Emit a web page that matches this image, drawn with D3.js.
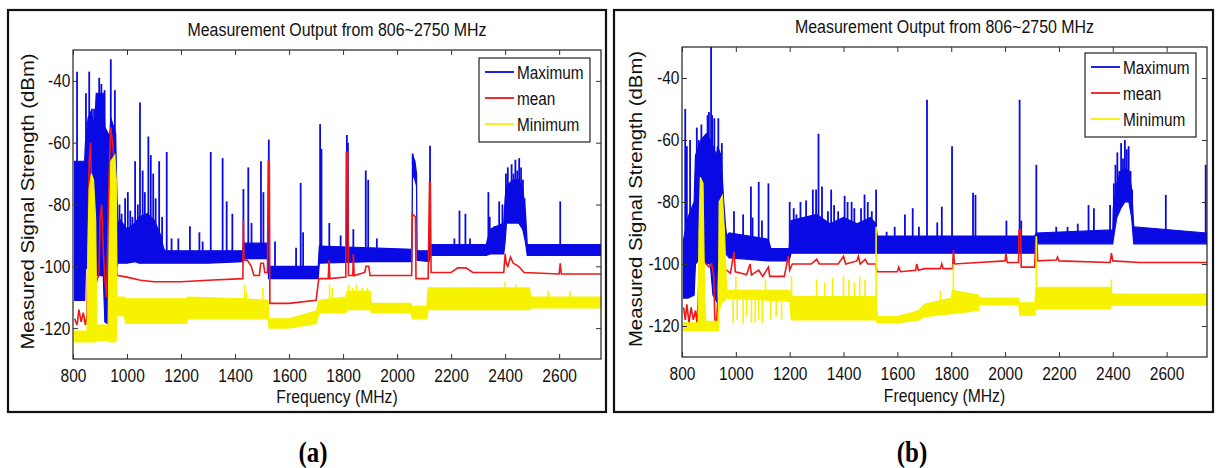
<!DOCTYPE html>
<html><head><meta charset="utf-8">
<script src="https://cdn.jsdelivr.net/npm/d3@7/dist/d3.min.js"></script>
<style>body{margin:0;background:#fff}svg{display:block}</style>
</head><body>
<svg id="chart" width="1218" height="468"></svg>
<script>
// ---------- shared labels ----------
const titleText = "Measurement Output from 806~2750 MHz";
const xLabel = "Frequency (MHz)";
const yLabel = "Measured Signal Strength (dBm)";
const xTicks = [800,1000,1200,1400,1600,1800,2000,2200,2400,2600];
const yTicks = [-40,-60,-80,-100,-120];
const seriesNames = ["Maximum","mean","Minimum"];
const captions = ["(a)","(b)"];

// ---------- panel (a) data : [MHz, dBm low, dBm high] bands, [MHz, dBm] spikes / line ----------
const aMaxBand = [
[806,-111,-66],[843,-111,-66],[846,-101,-60],[856,-100,-52],[866,-98,-50],[880,-98,-55],[886,-103,-44],[912,-103,-44],[918,-118,-55],[936,-119,-58],[940,-108,-52],[958,-104,-57],[962,-100,-75],[966,-99,-86],
[975,-99,-85],[1000,-99,-88],[1030,-98.5,-86],[1045,-99,-84],[1075,-99,-83],[1100,-99,-85],[1125,-99,-90],[1135,-99,-94],[1140,-99,-95],[1300,-99,-95],[1429,-98.5,-95],
[1431,-97.5,-92.5],[1520,-97.5,-92.5],[1524,-104,-100],[1708,-104,-100],[1712,-99,-93.5],[1900,-98.5,-94],[2055,-98.5,-94.5],[2057,-70,-64],[2066,-72,-66],[2072,-74,-70],[2074,-98,-95],[2118,-98.5,-95],[2124,-96.5,-93],[2330,-96.5,-93],[2345,-96,-88],[2395,-96,-86],[2400,-92,-78],[2405,-86,-74],[2430,-86,-72],[2450,-86,-72],[2465,-88,-75],[2475,-92,-82],[2482,-96.5,-93],[2755,-96.5,-93]
];
const aMaxSpikes = [
[815,-37],[848,-44],[860,-37],[870,-49],[878,-49],[897,-39],[905,-41],[917,-43],[940,-33],[955,-43],
[972,-80],[980,-83],[993,-78],[1003,-76],[1012,-82],[1020,-84],[1030,-66],[1040,-80],[1048,-47],[1058,-69],[1066,-76],[1079,-58],[1088,-64],[1097,-70],[1106,-78],[1119,-66],[1130,-84],[1147,-63],
[1165,-91],[1190,-91],[1233,-87],[1268,-89],[1280,-92],[1310,-63],[1354,-65],[1369,-79],[1390,-83],[1431,-75],[1449,-68],[1461,-86],[1496,-66],[1505,-76],[1525,-59],
[1548,-92],[1626,-94],[1643,-73],[1652,-89],[1715,-54],[1720,-62],[1749,-86],[1791,-90],[1814,-57.5],[1818,-60],[1838,-88],[1884,-69],[1893,-72],[1925,-91],
[2058,-63.5],[2122,-61],[2212,-91],[2231,-82],[2253,-83],[2270,-91],[2338,-76],[2343,-84],[2360,-87],[2378,-79],[2390,-80],
[2403,-70],[2410,-68],[2417,-73],[2424,-67],[2431,-70],[2438,-65.5],[2445,-69],[2452,-65],[2459,-68],[2466,-72],[2472,-78],[2604,-79]
];
const aMean = [
[806,-117],[815,-119],[822,-114],[830,-118],[838,-115],[846,-119],[852,-116],[856,-90],[860,-66],[865,-60],[869,-75],[873,-118],[878,-119],[884,-106],[890,-104],[896,-103],[900,-85],[906,-80],[912,-95],[918,-104],[924,-110],[928,-95],[934,-70],[940,-55],[946,-60],[952,-65],[958,-72],[962,-102],[966,-103],
[1000,-103.5],[1050,-104.5],[1100,-105],[1200,-105],[1300,-104.5],[1429,-104],[1431,-85],[1433,-98],[1445,-98],[1460,-100],[1470,-103],[1490,-103],[1495,-99],[1505,-99],[1510,-102],[1520,-102],[1523,-66],[1527,-66],[1529,-112],[1600,-112],[1700,-111],[1710,-104],
[1745,-104],[1748,-98],[1751,-104],[1810,-103.5],[1812,-63],[1817,-63],[1820,-103],[1836,-103],[1838,-96],[1841,-103],[1880,-102],[1885,-100],[1895,-100],[1900,-103],[2054,-103],[2056,-83],[2068,-84],[2070,-104],[2115,-104],[2120,-73],[2123,-73],[2126,-102],
[2200,-102],[2225,-100.5],[2255,-100.5],[2280,-102],[2395,-102],[2400,-96],[2404,-99],[2410,-100],[2420,-97],[2430,-99],[2450,-100],[2470,-102],[2600,-102.5],[2604,-99],[2608,-102.5],[2755,-102.5]
];
const aMinBand = [
[806,-124.5,-121],[852,-124.5,-121],[855,-124.5,-95],[860,-124.5,-75],[868,-124.5,-70],[876,-124.5,-72],[884,-124.5,-85],[888,-124,-119],[930,-124,-119],[934,-124.5,-90],[940,-124.5,-66],[955,-124.5,-64],[960,-124,-72],[963,-116,-110],[990,-116,-110],
[995,-118.5,-110.5],[1220,-118.5,-110.5],[1225,-117,-110],[1430,-117,-110.5],[1522,-117,-111],[1526,-120,-117],[1600,-120,-117],[1700,-118.5,-114.5],[1712,-115,-111],[1810,-115,-110],[1815,-114,-108],[1900,-114,-108],[1905,-115,-112],[2050,-115,-112],[2058,-117,-113],[2110,-117,-113],[2115,-114,-107],[2490,-114,-107],[2495,-113.5,-110],[2755,-113.5,-110]
];
const aMinSpikes = [
[1435,-106],[1442,-108],[1503,-107],[1750,-106],[1760,-107],[1820,-106],[1835,-107],[1850,-106],[1870,-107],[1890,-107],[2400,-105],[2440,-106],[2560,-108],[2640,-108]
];

// ---------- panel (b) data ----------
const bMaxBand = [
[806,-111,-92],[822,-111,-85],[845,-110,-80],[850,-100,-65],[870,-98,-60],[890,-100,-58],[905,-100,-60],[915,-110,-62],[928,-112,-65],[932,-100,-62],[945,-98,-65],[955,-98,-80],[962,-97,-88],[966,-97,-91],
[975,-98,-90],[1050,-98.5,-91],[1120,-99,-92],[1130,-99,-95],[1198,-99,-95],[1205,-96.5,-86],[1250,-96.5,-85],[1300,-96.5,-84],[1350,-96.5,-87],[1400,-96.5,-85],[1450,-96.5,-87],[1500,-96.5,-85],[1520,-96.5,-87],
[1525,-96.5,-91],[1700,-96.5,-91],[2110,-96.5,-91],[2116,-93.5,-90],[2400,-93.5,-89],[2402,-92,-82],[2415,-85,-74],[2430,-82,-70],[2445,-80,-69],[2460,-80,-70],[2470,-85,-76],[2478,-93.5,-88],[2750,-93.5,-90]
];
const bMaxSpikes = [
[812,-50],[818,-62],[830,-60],[842,-81],[855,-56],[862,-60],[872,-55],[885,-71],[895,-52],[900,-51],[908,-30],[912,-52],[920,-53],[935,-53],[948,-61],
[993,-83],[1027,-84],[1056,-75],[1062,-85],[1085,-73.5],[1097,-86],[1121,-74],[1200,-80],[1215,-82],[1225,-84],[1240,-80],[1261,-79.5],[1286,-76],[1298,-76],[1307,-58],[1320,-75],[1342,-83],[1354,-76],[1365,-81],[1380,-83],[1404,-78],[1415,-80],[1430,-80],[1440,-82],[1465,-82],[1478,-77.6],[1490,-80],[1505,-83],[1521,-76],
[1560,-89.6],[1590,-88],[1628,-84],[1657,-82],[1680,-88],[1710,-47],[1748,-86.6],[1765,-81.5],[1803,-62],[1881,-77],[1890,-77.7],[2005,-86],[2054,-47],[2060,-86],[2116,-68],[2190,-88],[2232,-88],[2270,-87],[2310,-81],[2330,-82],[2390,-81],
[2404,-74],[2410,-68],[2417,-64],[2424,-70],[2431,-61],[2438,-66],[2445,-60],[2452,-63],[2459,-62],[2466,-70],[2472,-76],[2597,-77.7],[2745,-68]
];
const bMean = [
[806,-114],[812,-118],[818,-113],[826,-119],[834,-114],[842,-118],[850,-115],[856,-119],[860,-112],[865,-100],[872,-97],[880,-99],[890,-100],[900,-101],[910,-100],[918,-104],[922,-118],[928,-119],[934,-110],[940,-100],[950,-102],[966,-102],
[980,-103],[993,-96],[998,-102.5],[1020,-103],[1040,-103.5],[1053,-100],[1058,-103.5],[1085,-102],[1100,-104],[1121,-101],[1126,-104],[1180,-104],[1195,-97.5],[1200,-102],[1210,-100],[1280,-100],[1300,-98.5],[1310,-100],[1380,-100],[1400,-97.5],[1408,-100],[1450,-99],[1455,-97.5],[1462,-100],[1480,-98.5],[1490,-100],[1520,-100],
[1524,-102.5],[1600,-102.5],[1605,-101],[1612,-102.5],[1668,-102],[1672,-100],[1678,-102],[1700,-101.5],[1760,-101.5],[1765,-100],[1770,-101.5],[1805,-101.5],[1808,-95.5],[1812,-100],[1900,-99.5],[2000,-99],[2003,-96.5],[2008,-99.5],[2050,-99.5],[2052,-89],[2058,-89],[2060,-101],[2110,-101],[2114,-92],[2118,-92],[2121,-99],[2190,-98.7],[2195,-97.8],[2200,-99],[2390,-99.5],[2395,-96.5],[2400,-99],[2500,-99.5],[2750,-99.5]
];
const bMinBand = [
[806,-121.5,-119],[860,-121.5,-119],[863,-121.5,-90],[868,-121.5,-72],[878,-121.5,-74],[884,-121.5,-110],[888,-121.5,-118.5],[935,-121.5,-118.5],[938,-115,-80],[950,-112,-78],[958,-112,-90],[962,-111,-100],[966,-111,-108.5],[1200,-112,-108.5],
[1206,-118,-110.5],[1520,-118,-110.5],[1526,-119,-117],[1600,-119,-117],[1680,-118,-115],[1700,-117,-113],[1800,-116,-111],[1805,-116,-108.5],[1900,-115,-110],[1905,-113,-111],[2050,-113,-111],[2055,-116.5,-112.5],[2110,-116.5,-112.5],[2116,-114.5,-107.5],[2390,-114.5,-107.5],[2395,-113.3,-109.7],[2750,-113.3,-109.7]
];
const bMinSpikes = [
[990,-119],[1000,-104],[1005,-118],[1027,-119],[1040,-117],[1058,-119],[1072,-119],[1085,-118],[1098,-119],[1110,-105],[1130,-118],[1150,-117],[1170,-118],
[1207,-104],[1300,-105],[1330,-106],[1360,-104.6],[1400,-104],[1420,-105],[1440,-106],[1460,-104],[1480,-105],[1521,-88],[1760,-108.7],[1808,-100],[2116,-91],[2395,-105]
];

// ---------- drawing ----------
const BLUE = "#0a0ae4", RED = "#f01818", YELLOW = "#f7f200";
const FONT = "'Liberation Sans', Arial, sans-serif";
const svg = d3.select("#chart");

function bandMid(band, f) {
  const i = Math.max(1, Math.min(band.length - 1, d3.bisector(d => d[0]).left(band, f)));
  const a = band[i - 1], b = band[i];
  const t = b[0] === a[0] ? 0 : Math.max(0, Math.min(1, (f - a[0]) / (b[0] - a[0])));
  return ((a[1] + a[2]) / 2) * (1 - t) + ((b[1] + b[2]) / 2) * t;
}

function text(parent, x, y, str, o) {
  return parent.append("text")
    .attr("transform", `translate(${x},${y})` + (o.rotate ? ` rotate(${o.rotate})` : "") + ` scale(${o.sx || 1},1)`)
    .attr("font-family", o.family || FONT).attr("font-size", o.size)
    .attr("font-weight", o.weight || "normal")
    .attr("text-anchor", o.anchor || "middle").attr("fill", o.fill || "#111")
    .text(str);
}

function panel(L, D, idx) {
  const x = d3.scaleLinear().domain([800, L.xMax]).range([L.left, L.right]);
  const y = d3.scaleLinear().domain([-130, -30]).range([L.bottom, L.top]);
  const g = svg.append("g");

  g.append("rect").attr("x", L.bx).attr("y", L.by).attr("width", L.bw).attr("height", L.bh)
    .attr("fill", "none").attr("stroke", "#111").attr("stroke-width", 2.2);

  const clipId = "clip" + idx;
  svg.append("clipPath").attr("id", clipId).append("rect")
    .attr("x", L.left).attr("y", L.top).attr("width", L.right - L.left).attr("height", L.bottom - L.top);
  const plot = g.append("g").attr("clip-path", `url(#${clipId})`);

  const area = d3.area().x(d => x(d[0])).y0(d => y(d[1])).y1(d => y(d[2]));
  const line = d3.line().x(d => x(d[0])).y(d => y(d[1]));

  plot.append("path").datum(D.maxBand).attr("d", area).attr("fill", BLUE).attr("stroke", BLUE).attr("stroke-width", 1.2);
  plot.append("g").selectAll("line").data(D.maxSpikes).join("line")
    .attr("x1", d => x(d[0])).attr("x2", d => x(d[0]))
    .attr("y1", d => y(bandMid(D.maxBand, d[0]))).attr("y2", d => y(d[1]))
    .attr("stroke", BLUE).attr("stroke-width", 1.8);
  plot.append("path").datum(D.mean).attr("d", line).attr("fill", "none").attr("stroke", RED).attr("stroke-width", 1.6);
  plot.append("path").datum(D.minBand).attr("d", area).attr("fill", YELLOW).attr("stroke", YELLOW).attr("stroke-width", 1.2);
  plot.append("g").selectAll("line").data(D.minSpikes).join("line")
    .attr("x1", d => x(d[0])).attr("x2", d => x(d[0]))
    .attr("y1", d => y(bandMid(D.minBand, d[0]))).attr("y2", d => y(d[1]))
    .attr("stroke", YELLOW).attr("stroke-width", 1.6);

  g.append("rect").attr("x", L.left).attr("y", L.top).attr("width", L.right - L.left).attr("height", L.bottom - L.top)
    .attr("fill", "none").attr("stroke", "#222").attr("stroke-width", 1.2);

  const fmt = d => String(d);
  const styleAxis = a => {
    a.select(".domain").remove();
    a.attr("font-family", FONT).attr("font-size", 18.5);
    a.selectAll(".tick line").attr("stroke", "#333");
    a.selectAll(".tick text").attr("fill", "#111");
  };
  g.append("g").attr("transform", `translate(0,${L.bottom})`)
    .call(d3.axisBottom(x).tickValues(xTicks).tickFormat(fmt).tickSize(-5).tickSizeOuter(0).tickPadding(10))
    .call(styleAxis).call(a => a.selectAll(".tick text").attr("transform", "scale(0.84,1)"));
  g.append("g").attr("transform", `translate(0,${L.top})`)
    .call(d3.axisTop(x).tickValues(xTicks).tickFormat("").tickSize(-5).tickSizeOuter(0)).call(styleAxis);
  g.append("g").attr("transform", `translate(${L.left},0)`)
    .call(d3.axisLeft(y).tickValues(yTicks).tickFormat(fmt).tickSize(-5).tickSizeOuter(0).tickPadding(3))
    .call(styleAxis).call(a => a.selectAll(".tick text").attr("transform", "scale(0.84,1)"));
  g.append("g").attr("transform", `translate(${L.right},0)`)
    .call(d3.axisRight(y).tickValues(yTicks).tickFormat("").tickSize(-5).tickSizeOuter(0)).call(styleAxis);

  const cx = (L.left + L.right) / 2;
  text(g, cx, L.titleY, titleText, { size: 19, sx: 0.84 });
  text(g, cx, L.xLabelY, xLabel, { size: 18.5, sx: 0.85 });
  text(g, L.yLabelX, (L.top + L.bottom) / 2 - 3, yLabel, { size: 18.5, rotate: -90, sx: 1.1 });

  const lg = g.append("g");
  lg.append("rect").attr("x", L.lx).attr("y", L.ly).attr("width", 111).attr("height", 84)
    .attr("fill", "#fff").attr("stroke", "#222").attr("stroke-width", 1.2);
  const cols = [BLUE, RED, YELLOW];
  seriesNames.forEach((n, i) => {
    const yy = L.ly + 14 + i * 26;
    lg.append("line").attr("x1", L.lx + 6).attr("x2", L.lx + 35).attr("y1", yy).attr("y2", yy)
      .attr("stroke", cols[i]).attr("stroke-width", 1.8);
    text(lg, L.lx + 38, yy + 6.5, n, { size: 18.5, sx: 0.83, anchor: "start" });
  });

  text(svg, L.capX, 462, captions[idx], { size: 29, weight: "bold", family: "'Liberation Serif','Times New Roman',serif", sx: 0.86, fill: "#000" });
}

panel({ left: 73, right: 601, top: 50, bottom: 359, xMax: 2755, bx: 8, by: 10, bw: 598, bh: 402,
        titleY: 36, xLabelY: 403, yLabelX: 34, lx: 479, ly: 58, capX: 313 },
      { maxBand: aMaxBand, maxSpikes: aMaxSpikes, mean: aMean, minBand: aMinBand, minSpikes: aMinSpikes }, 0);
panel({ left: 682, right: 1207, top: 47, bottom: 357, xMax: 2750, bx: 614, by: 10, bw: 599, bh: 402,
        titleY: 33, xLabelY: 402, yLabelX: 642, lx: 1085, ly: 53, capX: 912 },
      { maxBand: bMaxBand, maxSpikes: bMaxSpikes, mean: bMean, minBand: bMinBand, minSpikes: bMinSpikes }, 1);
</script>
</body></html>
